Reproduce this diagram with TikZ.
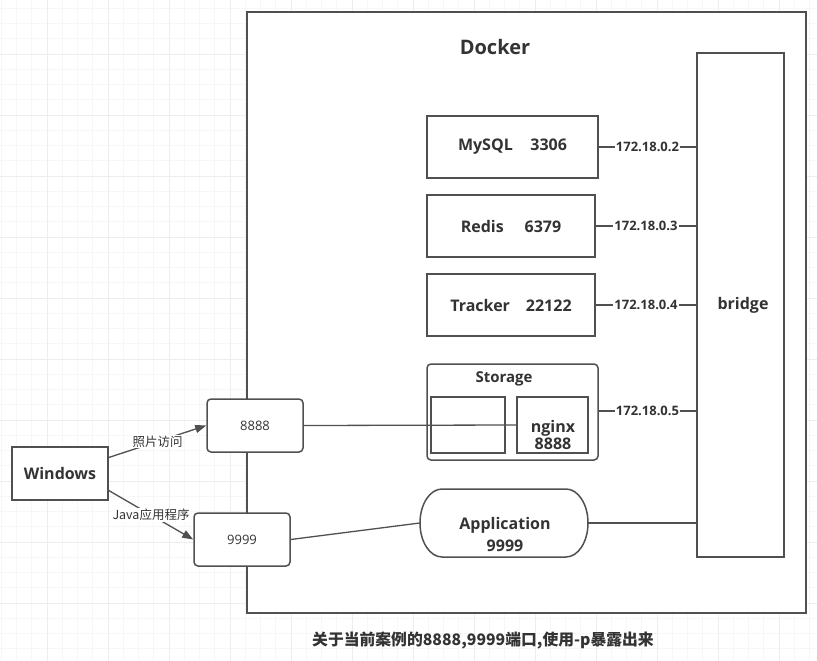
\documentclass[tikz,border=0pt]{standalone}
\usepackage{fontspec}
\setmainfont{Open Sans}
\newfontfamily\cjk{Noto Sans CJK SC}
\usetikzlibrary{arrows.meta}
\definecolor{ln}{HTML}{505050}
\definecolor{tx}{HTML}{333333}
\definecolor{gmin}{HTML}{F7F7F7}
\definecolor{gmaj}{HTML}{EDEDED}
\tikzset{
  box/.style={draw=ln, line width=1.5pt, fill=white, minimum width=#1, inner sep=0pt, text=tx},
  box/.default=96pt,
  lbl/.style={font=\bfseries\fontsize{16}{19}\selectfont, text=tx},
  iplabel/.style={fill=white, inner sep=1pt, font=\bfseries\fontsize{13}{15}\selectfont, text=tx},
  elabel/.style={fill=white, inner sep=1pt, font=\cjk\fontsize{12.5}{15}\selectfont, text=tx},
  conn/.style={draw=ln, line width=1.3pt},
  arr/.style={conn, -{Triangle[length=11pt,width=8pt]}},
}
\begin{document}
\begin{tikzpicture}[x=1pt,y=-1pt]
\useasboundingbox (0,0) rectangle (817,661);
\fill[white] (0,0) rectangle (817,661);
% background grid
\foreach \i in {0,...,53} {
  \draw[gmin, line width=0.8pt] ({1.25+15.25*\i},0) -- ({1.25+15.25*\i},661);
  \draw[gmin, line width=0.8pt] (0,{8.25+15.25*\i}) -- (817,{8.25+15.25*\i});
}
\foreach \i in {0,...,13} {
  \draw[gmaj, line width=0.8pt] ({47-61+61*\i},0) -- ({47-61+61*\i},661);
  \draw[gmaj, line width=0.8pt] (0,{54-61+61*\i}) -- (817,{54-61+61*\i});
}
% Docker container
\draw[draw=ln, line width=1.6pt, fill=white] (247,12) rectangle (806,613);
\node[lbl, font=\bfseries\fontsize{20}{24}\selectfont] (docker) at (495,47) {Docker};
% bridge
\node[box, minimum width=87pt, minimum height=504pt] (bridge) at (740.5,305) {};
\node[lbl] (bridgelbl) at (743,305) {bridge};
% services
\node[box, minimum width=171pt, minimum height=62pt, lbl] (mysql) at (512.5,147) {MySQL\hspace{1.1em}3306};
\node[box, minimum width=168pt, minimum height=62pt, lbl] (redis) at (511,226) {Redis\hspace{1.3em}6379};
\node[box, minimum width=168pt, minimum height=62pt, lbl] (tracker) at (511,305) {Tracker\hspace{1em}22122};
% storage group
\node[box, rounded corners=4pt, minimum width=171pt, minimum height=96pt] (storage) at (512.5,412) {};
\node[lbl, font=\bfseries\fontsize{15}{18}\selectfont] (storagelbl) at (504,379) {Storage};
\node[box, minimum width=74pt, minimum height=56pt] (inner) at (468,425) {};
\node[box, minimum width=71pt, minimum height=56pt] (nginx) at (552.5,425) {};
\node[lbl, align=center, font=\bfseries\fontsize{16}{17}\selectfont] (nginxlbl) at (553,435) {nginx\\8888};
% application
\draw[draw=ln, line width=1.5pt, fill=white] (442,489) -- (566,489)
  .. controls (578,489) and (588,504) .. (588,523)
  .. controls (588,542) and (578,557) .. (566,557) -- (442,557)
  .. controls (430,557) and (420,542) .. (420,523)
  .. controls (420,504) and (430,489) .. (442,489) -- cycle;
\node[minimum width=168pt, minimum height=68pt, inner sep=0pt] (app) at (504,523) {};
\node[lbl, align=center, font=\bfseries\fontsize{16}{22}\selectfont] (applbl) at (505,534) {Application\\9999};
% ip connectors
\draw[conn] (mysql.east) -- node[iplabel]{172.18.0.2} (mysql.east -| bridge.west);
\draw[conn] (redis.east) -- node[iplabel]{172.18.0.3} (redis.east -| bridge.west);
\draw[conn] (tracker.east) -- node[iplabel]{172.18.0.4} (tracker.east -| bridge.west);
\draw[conn] (storage.east |- 0,411) -- node[iplabel]{172.18.0.5} (bridge.west |- 0,411);
% port boxes
\node[box, rounded corners=4pt, minimum width=96pt, minimum height=53pt, font=\fontsize{13}{15}\selectfont] (p8888) at (255,425.5) {8888};
\node[box, rounded corners=4pt, minimum width=96pt, minimum height=53pt, font=\fontsize{13}{15}\selectfont] (p9999) at (242,539.5) {9999};
\draw[conn] (p8888.east) -- (nginx.west);
\draw[conn] (p9999.east) -- (app.west);
\draw[conn] (app.east) -- (app.east -| bridge.west);
% windows
\node[box, minimum width=96pt, minimum height=53pt, lbl] (win) at (60,473.5) {Windows};
\draw[arr] ([yshift=16pt]win.east) -- node[elabel]{照片访问} (p8888.west);
\draw[arr] ([yshift=-17pt]win.east) -- node[elabel]{Java应用程序} (p9999.west);
% caption
\node[text=tx, font=\cjk\bfseries\fontsize{15.8}{18}\selectfont] (caption) at (483,640) {关于当前案例的8888,9999端口,使用-p暴露出来};
\end{tikzpicture}
\end{document}
